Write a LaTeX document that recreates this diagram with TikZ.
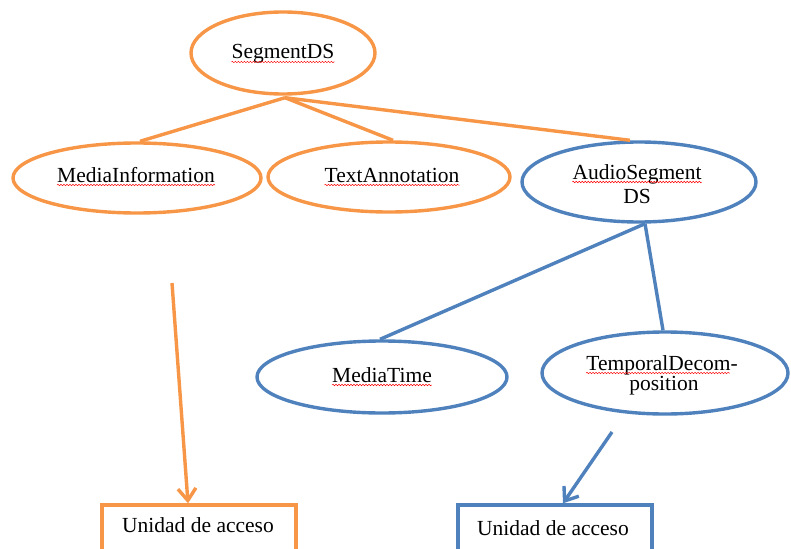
\documentclass[tikz,border=0pt]{standalone}
\usepackage{fontspec}
\setmainfont{Liberation Serif}
\usetikzlibrary{shapes.geometric,arrows.meta,decorations.pathmorphing}
\definecolor{orng}{RGB}{247,150,70}
\definecolor{blu}{RGB}{79,129,189}
\tikzset{
  oell/.style={ellipse, draw=orng, line width=3.4pt, inner sep=0pt},
  bell/.style={ellipse, draw=blu, line width=3.4pt, inner sep=0pt},
  lbl/.style={font=\fontsize{21.5}{25}\selectfont, inner sep=0pt, anchor=base, text=black},
  squig/.style={draw=red, line width=0.5pt, decorate, decoration={snake, amplitude=0.7pt, segment length=3pt}},
  olink/.style={draw=orng, line width=3.4pt},
  blink/.style={draw=blu, line width=3.4pt},
  obox/.style={draw=orng, line width=3.4pt, minimum width=194pt, minimum height=47pt, inner sep=0pt},
  bbox/.style={draw=blu, line width=3.4pt, minimum width=194pt, minimum height=47pt, inner sep=0pt},
  tip/.style={-{Straight Barb[length=12pt,width=18pt]}}
}
\begin{document}
\begin{tikzpicture}[x=1pt,y=-1pt]
\useasboundingbox (0,0) rectangle (791,548);
% ellipses
\node[oell, minimum width=184pt, minimum height=82pt] (seg) at (283,53) {};
\node[oell, minimum width=248pt, minimum height=70pt] (mi) at (137,178) {};
\node[oell, minimum width=242pt, minimum height=70pt] (ta) at (389,177) {};
\node[bell, minimum width=234pt, minimum height=80pt] (aud) at (639,182) {};
\node[bell, minimum width=250pt, minimum height=72pt] (mt) at (382,377) {};
\node[bell, minimum width=246pt, minimum height=82pt] (td) at (665,373) {};
% boxes
\node[obox] (box1) at (199,528.5) {};
\node[bbox] (box2) at (555,528.5) {};
% labels
\node[lbl] (segT) at (283,59) {SegmentDS};
\node[lbl] (miT) at (136,182) {MediaInformation};
\node[lbl] (taT) at (392,182) {TextAnnotation};
\node[lbl] (audT1) at (637,179) {AudioSegment};
\node[lbl] (audT2) at (637,203) {DS};
\node[lbl] (mtT) at (382,382) {MediaTime};
\node[lbl] (tdT1) at (662,370) {TemporalDecom-};
\node[lbl] (tdT2) at (664,390) {position};
\node[lbl] (b1T) at (198,532) {Unidad de acceso};
\node[lbl] (b2T) at (553,535) {Unidad de acceso};
% spell-check squiggles
\foreach \t in {segT,miT,taT,audT1,mtT}{
  \draw[squig] ([yshift=-3pt]\t.base west) -- ([yshift=-3pt]\t.base east);
}
\draw[squig] ([yshift=-3pt]tdT1.base west) -- ([yshift=-3pt,xshift=-8pt]tdT1.base east);
% connectors
\draw[olink] ([xshift=2pt,yshift=-2pt]seg.south) -- ([xshift=3pt]mi.north);
\draw[olink] ([xshift=2pt,yshift=-2pt]seg.south) -- ([xshift=4pt]ta.north);
\draw[olink] ([xshift=2pt,yshift=-2pt]seg.south) -- ([xshift=-9pt]aud.north);
\draw[blink] ([xshift=6pt]aud.south) -- ([xshift=-2pt]mt.north);
\draw[blink] ([xshift=6pt]aud.south) -- ([xshift=-2pt]td.north);
% arrows
\coordinate (a1) at (172,283);
\coordinate (a2) at (612,432);
\draw[olink,tip] (a1) -- ([xshift=-11pt]box1.north);
\draw[blink,tip] (a2) -- ([xshift=8pt]box2.north);
\end{tikzpicture}
\end{document}
